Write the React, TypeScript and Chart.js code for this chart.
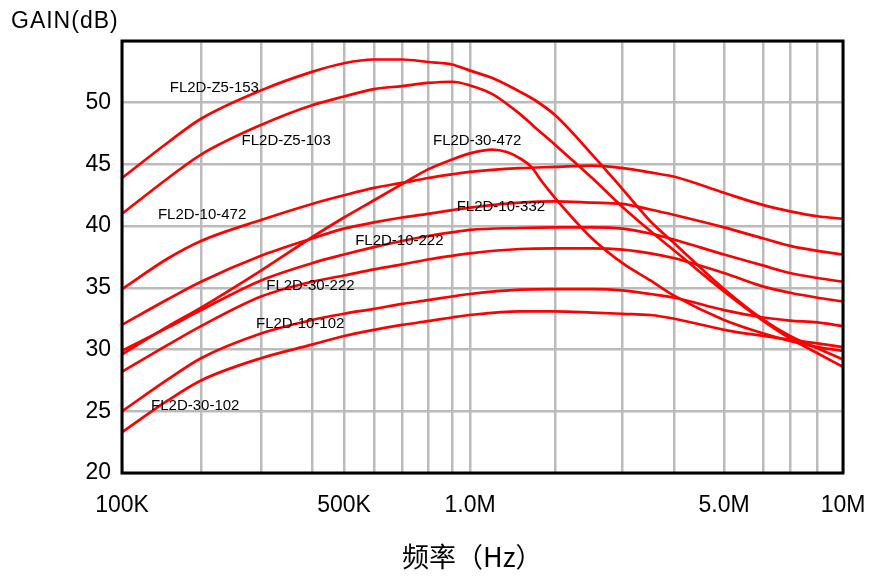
import React, { useEffect, useRef } from 'react';
import { Chart, LinearScale, registerables } from 'chart.js';

Chart.register(...registerables);

// ---- x axis (non-uniform frequency grid of the original chart) ----
const GRID_FREQ = [1e5, 2e5, 3e5, 4e5, 5e5, 6e5, 7e5, 8e5, 9e5, 1e6, 2e6, 3e6, 4e6, 5e6, 6e6, 7e6, 8e6, 1e7];
const GRID_FRAC = [0, 0.1096, 0.1928, 0.2635, 0.3079, 0.3495, 0.3883, 0.4244, 0.4577, 0.4827, 0.6005, 0.6942, 0.7663, 0.835, 0.8898, 0.9265, 0.9646, 1];

const X_TICK_VALUES = [1e5, 5e5, 1e6, 5e6, 1e7];
const X_TICK_LABELS = ['100K', '500K', '1.0M', '5.0M', '10M'];
const Y_MIN = 20;
const Y_MAX = 55;
const Y_STEP = 5;

// ---- data ----
const FREQ = [1e5, 1.5e5, 2e5, 3e5, 4e5, 5e5, 6e5, 7e5, 8e5, 9e5, 1e6, 1.5e6, 2e6, 2.5e6, 3e6, 3.5e6, 4e6, 5e6, 6e6, 7e6, 8e6, 1e7];
const G_10_472 = [34.9, 37.4, 38.8, 40.5, 41.8, 42.5, 43.1, 43.5, 43.9, 44.2, 44.4, 44.7, 44.8, 44.9, 44.7, 44.35, 44.0, 42.7, 41.7, 41.2, 40.8, 40.6];
const G_10_332 = [32.0, 34.1, 35.5, 37.6, 39.0, 39.8, 40.3, 40.7, 41.0, 41.3, 41.5, 41.9, 42.0, 41.9, 41.8, 41.35, 40.9, 39.9, 39.0, 38.4, 38.0, 37.7];
const G_10_222 = [29.9, 31.8, 33.2, 35.6, 37.0, 37.7, 38.3, 38.8, 39.2, 39.5, 39.7, 39.85, 39.9, 39.9, 39.8, 39.4, 38.9, 37.7, 36.8, 36.2, 35.8, 35.5];
const G_30_222 = [28.2, 30.4, 31.9, 34.3, 35.5, 36.0, 36.5, 36.9, 37.3, 37.6, 37.8, 38.15, 38.2, 38.2, 38.1, 37.8, 37.4, 36.2, 35.1, 34.6, 34.2, 33.9];
const G_10_102 = [25.0, 27.6, 29.3, 31.3, 32.4, 32.9, 33.3, 33.7, 34.0, 34.3, 34.5, 34.85, 34.9, 34.9, 34.8, 34.5, 34.2, 33.2, 32.6, 32.35, 32.2, 31.9];
const G_30_102 = [23.3, 25.9, 27.5, 29.3, 30.4, 31.1, 31.6, 32.0, 32.3, 32.6, 32.8, 33.1, 33.1, 33.0, 32.9, 32.8, 32.5, 31.6, 31.1, 30.8, 30.5, 30.2];

const FREQ_Z5 = [1e5, 1.5e5, 2e5, 3e5, 4e5, 5e5, 6e5, 7e5, 8e5, 9e5, 1e6, 1.2e6, 1.5e6, 1.7e6, 2e6, 2.5e6, 3e6, 3.5e6, 4e6, 5e6, 6e6, 7e6, 8e6, 1e7];
const G_Z5_153 = [43.9, 46.8, 48.7, 51.0, 52.5, 53.2, 53.5, 53.5, 53.3, 53.1, 52.6, 52.0, 50.9, 50.2, 49.0, 45.8, 43.0, 40.4, 38.6, 34.9, 32.4, 31.1, 30.1, 29.2];
const G_Z5_103 = [41.0, 43.9, 45.8, 48.2, 49.8, 50.5, 51.1, 51.35, 51.6, 51.7, 51.4, 50.7, 49.1, 48.0, 46.6, 43.9, 41.55, 39.6, 38.0, 34.7, 32.3, 30.9, 29.7, 28.6];

const FREQ_30_472 = [1e5, 1.5e5, 2e5, 3e5, 4e5, 5e5, 6e5, 7e5, 8e5, 9e5, 1e6, 1.2e6, 1.35e6, 1.5e6, 1.65e6, 1.8e6, 2e6, 2.5e6, 3e6, 3.5e6, 4e6, 5e6, 6e6, 7e6, 8e6, 1e7];
const G_30_472 = [29.6, 31.9, 33.4, 36.4, 39.1, 40.7, 42.1, 43.4, 44.6, 45.4, 45.9, 46.2, 46.0, 45.5, 44.8, 43.6, 42.3, 39.0, 37.0, 35.6, 34.35, 32.4, 31.3, 30.7, 30.2, 29.9];

// curve labels (anchor: left edge of text, vertical middle)
const LABEL_TEXT = ['FL2D-Z5-153', 'FL2D-Z5-103', 'FL2D-30-472', 'FL2D-10-472', 'FL2D-10-332', 'FL2D-10-222', 'FL2D-30-222', 'FL2D-10-102', 'FL2D-30-102'];
const LABEL_FREQ = [1.52e5, 2.63e5, 8.2e5, 1.37e5, 9.25e5, 5.35e5, 3.09e5, 2.9e5, 1.29e5];
const LABEL_GAIN = [51.2, 46.95, 46.95, 40.9, 41.6, 38.8, 35.2, 32.1, 25.4];

const LATIN = '"Liberation Sans", Arial, Helvetica, sans-serif';
const CJK = '"Noto Sans CJK SC", "Noto Sans", sans-serif';

function locate(arr: number[], v: number): number {
  let i = 0;
  if (v <= arr[0]) return 0;
  if (v >= arr[arr.length - 1]) return arr.length - 2;
  while (i < arr.length - 2 && v > arr[i + 1]) i++;
  return i;
}

const LOG_GRID = GRID_FREQ.map((f) => Math.log10(f));

function freqToFrac(f: number): number {
  if (!(f > 0)) return NaN;
  const lf = Math.log10(f);
  const i = locate(LOG_GRID, lf);
  const t = (lf - LOG_GRID[i]) / (LOG_GRID[i + 1] - LOG_GRID[i]);
  return GRID_FRAC[i] + t * (GRID_FRAC[i + 1] - GRID_FRAC[i]);
}

function fracToFreq(d: number): number {
  const i = locate(GRID_FRAC, d);
  const t = (d - GRID_FRAC[i]) / (GRID_FRAC[i + 1] - GRID_FRAC[i]);
  return Math.pow(10, LOG_GRID[i] + t * (LOG_GRID[i + 1] - LOG_GRID[i]));
}

class GridLogScale extends (LinearScale as any) {
  static id = 'gridlog';
  static defaults = {};
  buildTicks() {
    return GRID_FREQ.map((v) => ({ value: v }));
  }
  getPixelForValue(value: number) {
    return (this as any).getPixelForDecimal(freqToFrac(value));
  }
  getValueForPixel(pixel: number) {
    return fracToFreq((this as any).getDecimalForPixel(pixel));
  }
}
Chart.register(GridLogScale as any);

function pts(xs: number[], ys: number[]) {
  return xs.map((x, i) => ({ x, y: ys[i] }));
}

const SERIES: { name: string; xs: number[]; ys: number[] }[] = [
  { name: 'FL2D-Z5-153', xs: FREQ_Z5, ys: G_Z5_153 },
  { name: 'FL2D-Z5-103', xs: FREQ_Z5, ys: G_Z5_103 },
  { name: 'FL2D-30-472', xs: FREQ_30_472, ys: G_30_472 },
  { name: 'FL2D-10-472', xs: FREQ, ys: G_10_472 },
  { name: 'FL2D-10-332', xs: FREQ, ys: G_10_332 },
  { name: 'FL2D-10-222', xs: FREQ, ys: G_10_222 },
  { name: 'FL2D-30-222', xs: FREQ, ys: G_30_222 },
  { name: 'FL2D-10-102', xs: FREQ, ys: G_10_102 },
  { name: 'FL2D-30-102', xs: FREQ, ys: G_30_102 },
];

const decorPlugin = {
  id: 'decor',
  afterDatasetsDraw(chart: any) {
    const { ctx, chartArea, scales } = chart;
    const xs = scales.x;
    const ys = scales.y;
    ctx.save();
    // curve labels
    ctx.fillStyle = '#000';
    ctx.font = `15px ${LATIN}`;
    ctx.textAlign = 'left';
    ctx.textBaseline = 'middle';
    LABEL_TEXT.forEach((t, i) => {
      ctx.fillText(t, xs.getPixelForValue(LABEL_FREQ[i]), ys.getPixelForValue(LABEL_GAIN[i]));
    });
    // frame
    ctx.strokeStyle = '#000';
    ctx.lineWidth = 3;
    ctx.strokeRect(chartArea.left, chartArea.top, chartArea.right - chartArea.left, chartArea.bottom - chartArea.top);
    // axis titles
    ctx.fillStyle = '#000';
    ctx.font = `23px ${LATIN}`;
    ctx.textAlign = 'left';
    ctx.textBaseline = 'middle';
    try { (ctx as any).letterSpacing = '1px'; } catch (e) {}
    ctx.fillText('GAIN(dB)', 11, 22);
    try { (ctx as any).letterSpacing = '0px'; } catch (e) {}
    ctx.font = `27px ${CJK}`;
    ctx.textAlign = 'left';
    ctx.fillText('频率（Hz）', 402, 557);
    ctx.restore();
  },
};

export default function App() {
  const ref = useRef<HTMLCanvasElement | null>(null);
  useEffect(() => {
    if (!ref.current) return;
    const chart = new Chart(ref.current, {
      type: 'line',
      data: {
        datasets: SERIES.map((s) => ({
          label: s.name,
          data: pts(s.xs, s.ys),
          borderColor: '#ff0000',
          backgroundColor: '#ff0000',
          borderWidth: 2.7,
          pointRadius: 0,
          fill: false,
          cubicInterpolationMode: 'monotone' as const,
        })),
      },
      options: {
        animation: false,
        responsive: true,
        maintainAspectRatio: false,
        layout: { padding: { top: 41, right: 26, bottom: 0, left: 0 } },
        plugins: { legend: { display: false }, tooltip: { enabled: false }, title: { display: false } },
        events: [],
        scales: {
          x: {
            type: 'gridlog' as any,
            min: 1e5,
            max: 1e7,
            border: { display: false },
            grid: { color: '#bbbbbb', lineWidth: 2.5, drawTicks: false },
            ticks: {
              autoSkip: false,
              maxRotation: 0,
              minRotation: 0,
              padding: 19,
              color: '#000',
              font: { family: LATIN, size: 23 },
              callback: (v: any) => {
                const i = X_TICK_VALUES.indexOf(Number(v));
                return i >= 0 ? X_TICK_LABELS[i] : '';
              },
            },
            afterFit: (s: any) => {
              s.height = 105;
              s.paddingLeft = 0;
              s.paddingRight = 0;
            },
          } as any,
          y: {
            type: 'linear',
            min: Y_MIN,
            max: Y_MAX,
            border: { display: false },
            grid: { color: '#bbbbbb', lineWidth: 2.5, drawTicks: false },
            ticks: {
              stepSize: Y_STEP,
              padding: 11,
              color: '#000',
              font: { family: LATIN, size: 23 },
              callback: (v: any) => (Number(v) === Y_MAX ? '' : String(v)),
            },
            afterFit: (s: any) => {
              s.width = 122;
            },
          },
        },
      },
      plugins: [decorPlugin],
    });
    return () => chart.destroy();
  }, []);
  return (
    <div style={{ position: 'fixed', left: 0, top: 0, width: 869, height: 578, background: '#fff' }}>
      <canvas ref={ref} />
    </div>
  );
}
